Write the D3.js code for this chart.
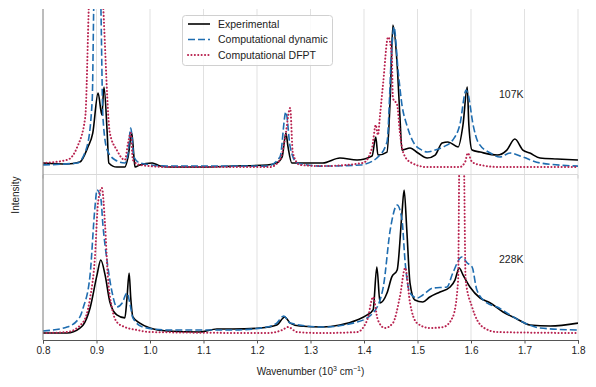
<!DOCTYPE html>
<html>
<head>
<meta charset="utf-8">
<script src="https://cdn.jsdelivr.net/npm/d3@7"></script>
<style>
  html, body { margin: 0; padding: 0; background: #fff; }
  svg { display: block; font-family: "Liberation Sans", Arial, Helvetica, sans-serif; }
</style>
</head>
<body>
<svg id="chart" width="596" height="387"></svg>
<script>
// ---------------- DATA (wavenumber in 10^3 cm^-1, intensity in arbitrary units per panel) ----------------
const xTicks = [0.8, 0.9, 1.0, 1.1, 1.2, 1.3, 1.4, 1.5, 1.6, 1.7, 1.8];
const seriesNames = ["Experimental", "Computational dynamic", "Computational DFPT"];
const panelLabels = ["107K", "228K"];

// 107 K panel
const exp107 = [[0.800,0.067],[0.845,0.061],[0.869,0.073],[0.884,0.164],[0.893,0.248],[0.903,0.491],[0.910,0.358],[0.914,0.527],[0.920,0.248],[0.923,0.067],[0.938,0.042],[0.953,0.042],[0.959,0.103],[0.966,0.248],[0.970,0.103],[0.972,0.042],[0.981,0.055],[1.004,0.067],[1.019,0.048],[1.037,0.042],[1.093,0.042],[1.155,0.048],[1.219,0.055],[1.237,0.067],[1.247,0.103],[1.254,0.248],[1.258,0.164],[1.265,0.067],[1.323,0.067],[1.355,0.097],[1.387,0.085],[1.415,0.109],[1.422,0.224],[1.426,0.115],[1.443,0.133],[1.449,0.461],[1.454,0.903],[1.462,0.661],[1.467,0.358],[1.471,0.145],[1.486,0.158],[1.501,0.127],[1.518,0.097],[1.533,0.115],[1.546,0.188],[1.557,0.194],[1.576,0.164],[1.585,0.297],[1.593,0.527],[1.596,0.297],[1.602,0.145],[1.617,0.133],[1.649,0.115],[1.667,0.145],[1.682,0.212],[1.697,0.145],[1.710,0.127],[1.729,0.097],[1.761,0.091],[1.800,0.085]];
const dyn107 = [[0.800,0.055],[0.864,0.067],[0.882,0.164],[0.892,0.448],[0.895,1.05],[0.901,1.6],[0.908,1.05],[0.912,0.345],[0.920,0.145],[0.935,0.085],[0.953,0.067],[0.959,0.127],[0.964,0.279],[0.970,0.103],[0.981,0.067],[1.032,0.048],[1.219,0.048],[1.243,0.103],[1.254,0.376],[1.262,0.164],[1.275,0.067],[1.323,0.048],[1.393,0.055],[1.424,0.097],[1.443,0.194],[1.452,0.764],[1.456,0.891],[1.464,0.618],[1.471,0.418],[1.480,0.297],[1.492,0.194],[1.508,0.145],[1.518,0.133],[1.533,0.145],[1.548,0.164],[1.566,0.206],[1.579,0.297],[1.591,0.509],[1.594,0.491],[1.604,0.297],[1.613,0.194],[1.636,0.127],[1.654,0.103],[1.673,0.127],[1.697,0.103],[1.729,0.067],[1.800,0.048]];
const dfpt107 = [[0.800,0.067],[0.845,0.085],[0.864,0.164],[0.879,0.345],[0.886,1.05],[0.899,1.8],[0.912,1.05],[0.925,0.248],[0.938,0.145],[0.953,0.085],[0.959,0.188],[0.964,0.248],[0.968,0.085],[0.981,0.055],[1.037,0.042],[1.224,0.042],[1.243,0.085],[1.252,0.206],[1.262,0.400],[1.267,0.127],[1.280,0.055],[1.323,0.048],[1.398,0.067],[1.415,0.158],[1.422,0.297],[1.426,0.236],[1.430,0.358],[1.436,0.558],[1.445,0.830],[1.452,0.721],[1.454,0.461],[1.462,0.418],[1.467,0.255],[1.473,0.133],[1.486,0.073],[1.518,0.042],[1.579,0.042],[1.589,0.073],[1.594,0.127],[1.602,0.073],[1.617,0.055],[1.654,0.042],[1.800,0.042]];

// 228 K panel
const exp228 = [[0.800,0.042],[0.845,0.042],[0.869,0.072],[0.875,0.090],[0.888,0.193],[0.901,0.392],[0.908,0.482],[0.916,0.392],[0.925,0.229],[0.938,0.151],[0.953,0.133],[0.957,0.253],[0.961,0.404],[0.964,0.253],[0.968,0.139],[0.981,0.102],[1.000,0.072],[1.032,0.054],[1.093,0.048],[1.125,0.066],[1.155,0.066],[1.206,0.072],[1.237,0.090],[1.252,0.139],[1.262,0.102],[1.280,0.084],[1.323,0.078],[1.355,0.090],[1.387,0.120],[1.406,0.151],[1.417,0.181],[1.424,0.440],[1.430,0.223],[1.443,0.283],[1.452,0.380],[1.462,0.422],[1.471,0.765],[1.475,0.904],[1.480,0.663],[1.486,0.343],[1.495,0.241],[1.510,0.229],[1.523,0.259],[1.542,0.289],[1.561,0.319],[1.570,0.361],[1.578,0.434],[1.585,0.392],[1.598,0.319],[1.617,0.253],[1.636,0.223],[1.660,0.169],[1.686,0.127],[1.710,0.090],[1.748,0.084],[1.800,0.102]];
const dyn228 = [[0.800,0.054],[0.845,0.078],[0.869,0.139],[0.875,0.193],[0.888,0.392],[0.897,0.795],[0.901,0.904],[0.908,0.855],[0.912,0.693],[0.920,0.470],[0.929,0.289],[0.938,0.199],[0.948,0.223],[0.957,0.283],[0.963,0.211],[0.968,0.133],[0.987,0.078],[1.032,0.060],[1.155,0.060],[1.219,0.078],[1.237,0.102],[1.250,0.145],[1.262,0.102],[1.323,0.078],[1.387,0.108],[1.417,0.163],[1.436,0.319],[1.449,0.663],[1.462,0.813],[1.471,0.723],[1.477,0.464],[1.486,0.283],[1.499,0.253],[1.510,0.271],[1.529,0.313],[1.555,0.319],[1.566,0.404],[1.583,0.500],[1.593,0.464],[1.602,0.440],[1.611,0.301],[1.630,0.223],[1.649,0.199],[1.673,0.151],[1.697,0.108],[1.729,0.072],[1.800,0.060]];
const dfpt228 = [[0.800,0.042],[0.845,0.048],[0.875,0.108],[0.888,0.253],[0.897,0.494],[0.903,0.831],[0.910,0.916],[0.916,0.693],[0.921,0.392],[0.929,0.193],[0.938,0.108],[0.953,0.078],[0.976,0.060],[1.000,0.048],[1.219,0.042],[1.247,0.060],[1.258,0.078],[1.275,0.048],[1.323,0.042],[1.387,0.048],[1.406,0.120],[1.417,0.259],[1.426,0.120],[1.439,0.072],[1.454,0.102],[1.467,0.259],[1.477,0.434],[1.486,0.223],[1.499,0.102],[1.523,0.072],[1.548,0.078],[1.566,0.139],[1.576,0.361],[1.578,1.05],[1.582,1.6],[1.587,1.05],[1.590,0.361],[1.602,0.199],[1.622,0.078],[1.649,0.048],[1.800,0.042]];

// ---------------- DRAWING ----------------
const svg = d3.select("#chart");
const colors = ["#000000", "#1f6db0", "#b8224f"];

const x = d3.scaleLinear().domain([0.8, 1.8]).range([43, 578]);
const panels = [
  { y: d3.scaleLinear().domain([0, 1]).range([174, 9]), data: [exp107, dyn107, dfpt107], label: panelLabels[0], labelY: 97.5 },
  { y: d3.scaleLinear().domain([0, 1]).range([340, 174]), data: [exp228, dyn228, dfpt228], label: panelLabels[1], labelY: 263 }
];

// vertical gridlines spanning both panels
svg.append("g").selectAll("line").data(xTicks.slice(1)).join("line")
  .attr("x1", d => x(d)).attr("x2", d => x(d))
  .attr("y1", 9).attr("y2", 340)
  .attr("stroke", "#e1e1e1").attr("stroke-width", 1);

const styles = [
  { dash: null, width: 1.6, cap: "butt" },
  { dash: "7,3", width: 1.6, cap: "butt" },
  { dash: "0.1,3.3", width: 2.0, cap: "round" }
];

panels.forEach((p, i) => {
  const [y0, y1] = p.y.range();
  const clipId = "clip" + i;
  svg.append("clipPath").attr("id", clipId).append("rect")
    .attr("x", x.range()[0]).attr("y", y1).attr("width", x.range()[1] - x.range()[0]).attr("height", y0 - y1);

  const g = svg.append("g").attr("clip-path", `url(#${clipId})`);
  const line = d3.line().x(d => x(d[0])).y(d => p.y(d[1])).curve(d3.curveMonotoneX);
  // draw DFPT first, then dynamic, then experimental? order: experimental, dynamic, dfpt
  [0, 1, 2].forEach(k => {
    const s = styles[k];
    g.append("path").datum(p.data[k])
      .attr("d", line)
      .attr("fill", "none")
      .attr("stroke", colors[k])
      .attr("stroke-width", s.width)
      .attr("stroke-linecap", s.cap)
      .attr("stroke-linejoin", "round")
      .attr("stroke-dasharray", s.dash);
  });

  svg.append("text").attr("x", 499).attr("y", p.labelY)
    .attr("font-size", 10.5).attr("fill", "#222").text(p.label);
});

// top panel bottom edge (light) with light ticks
svg.append("line").attr("x1", 43).attr("x2", 578).attr("y1", 174.5).attr("y2", 174.5)
  .attr("stroke", "#d9d9d9").attr("stroke-width", 1);
svg.append("g").selectAll("line").data([0.8, 1.8]).join("line")
  .attr("x1", d => x(d)).attr("x2", d => x(d)).attr("y1", 175).attr("y2", 178.5)
  .attr("stroke", "#cfcfcf").attr("stroke-width", 1);

// left spine
svg.append("line").attr("x1", 43).attr("x2", 43).attr("y1", 9).attr("y2", 340)
  .attr("stroke", "#7a7a7a").attr("stroke-width", 1);

// bottom axis
const axis = d3.axisBottom(x).tickValues(xTicks).tickSize(3.5).tickPadding(3).tickFormat(d3.format(".1f"));
const ax = svg.append("g").attr("transform", "translate(0,340)").call(axis);
ax.select(".domain").attr("stroke", "#555").attr("stroke-width", 1);
ax.selectAll(".tick line").attr("stroke", "#555");
ax.selectAll(".tick text").attr("font-size", 10).attr("fill", "#222")
  .attr("font-family", "'Liberation Sans', Arial, sans-serif");

// x label
const xl = svg.append("text").attr("x", 310.5).attr("y", 375).attr("text-anchor", "middle")
  .attr("font-size", 10).attr("fill", "#222");
xl.append("tspan").text("Wavenumber (10");
xl.append("tspan").attr("font-size", 7).attr("dy", -4).text("3");
xl.append("tspan").attr("dy", 4).text(" cm");
xl.append("tspan").attr("font-size", 7).attr("dy", -4).text("\u22121");
xl.append("tspan").attr("dy", 4).text(")");

// y label
svg.append("text").attr("transform", "translate(19,195) rotate(-90)")
  .attr("text-anchor", "middle").attr("font-size", 10).attr("fill", "#222").text("Intensity");

// legend
const lg = svg.append("g");
lg.append("rect").attr("x", 182.5).attr("y", 15.5).attr("width", 150).attr("height", 50).attr("rx", 3)
  .attr("fill", "#fff").attr("fill-opacity", 0.85).attr("stroke", "#d0d0d0").attr("stroke-width", 1);
const rowY = [24, 39.5, 55];
seriesNames.forEach((name, k) => {
  const s = styles[k];
  lg.append("line").attr("x1", 188).attr("x2", 210).attr("y1", rowY[k]).attr("y2", rowY[k])
    .attr("stroke", colors[k]).attr("stroke-width", s.width)
    .attr("stroke-linecap", s.cap).attr("stroke-dasharray", s.dash);
  lg.append("text").attr("x", 218).attr("y", rowY[k] + 3.7).attr("font-size", 10.5).attr("fill", "#222").text(name);
});
</script>
</body>
</html>
